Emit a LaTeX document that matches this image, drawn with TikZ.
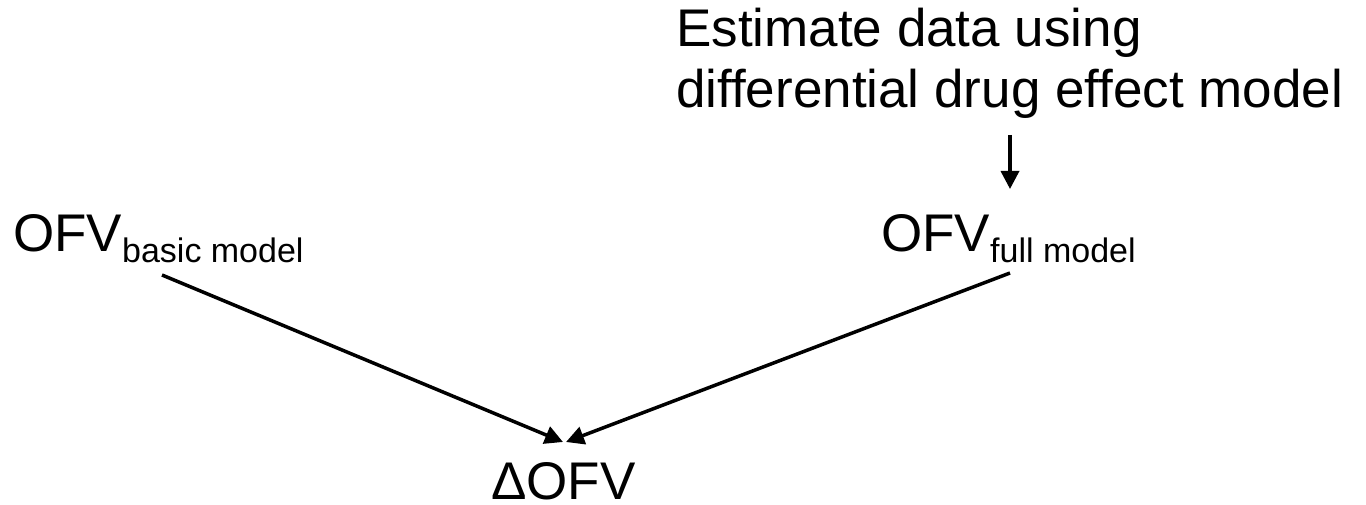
\documentclass[tikz,border=0pt]{standalone}
\usepackage{fontspec}
\setmainfont[Ligatures=NoCommon]{Liberation Sans}
\usetikzlibrary{arrows.meta,calc}
\begin{document}
\begin{tikzpicture}[x=1pt,y=-1pt,
  txt/.style={inner sep=0pt, font=\fontsize{53}{61}\selectfont},
  arr/.style={line width=3.5pt, -{Triangle[length=18pt,width=18pt]}}]
\useasboundingbox (0,0) rectangle (1366,505);
\node[txt, anchor=base west, align=left] (est) at (676,108) {Estimate data using\\differential drug effect model};
\node[txt, anchor=base west] (ofvb) at (13,252) {OFV\raisebox{-11pt}{\fontsize{34}{40}\selectfont basic model}};
\node[txt, anchor=base west] (ofvf) at (881,252) {OFV\raisebox{-11pt}{\fontsize{34}{40}\selectfont full model}};
\node[txt, anchor=base west] (dofv) at (491,499) {ΔOFV};
\coordinate (sb) at (162,275);
\coordinate (sf) at (1010,273);
\coordinate (tb) at (563,442);
\coordinate (tf) at (566,442);
\coordinate (ea) at (1010,135);
\coordinate (eb) at (1010,189);
\draw[arr] (sb) -- (tb);
\draw[arr] (sf) -- (tf);
\draw[arr] (ea) -- (eb);
\end{tikzpicture}
\end{document}
